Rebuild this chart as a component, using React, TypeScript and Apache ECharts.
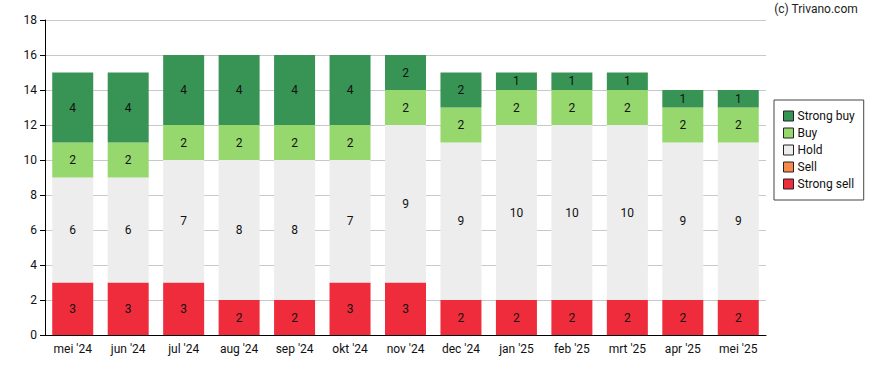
import React, { useEffect, useRef } from "react";
import * as echarts from "echarts";

const categories = ["mei '24", "jun '24", "jul '24", "aug '24", "sep '24", "okt '24", "nov '24", "dec '24", "jan '25", "feb '25", "mrt '25", "apr '25", "mei '25"];
const strongSell = [3, 3, 3, 2, 2, 3, 3, 2, 2, 2, 2, 2, 2];
const sell = [0, 0, 0, 0, 0, 0, 0, 0, 0, 0, 0, 0, 0];
const hold = [6, 6, 7, 8, 8, 7, 9, 9, 10, 10, 10, 9, 9];
const buy = [2, 2, 2, 2, 2, 2, 2, 2, 2, 2, 2, 2, 2];
const strongBuy = [4, 4, 4, 4, 4, 4, 2, 2, 1, 1, 1, 1, 1];
const yTicks = { min: 0, max: 18, interval: 2 };

export default function App() {
  const ref = useRef<HTMLDivElement>(null);
  useEffect(() => {
    if (!ref.current) return;
    const chart = echarts.init(ref.current, undefined, { renderer: "svg" });
    const font = "Roboto, sans-serif";
    const mk = (name: string, data: number[], color: string) => ({
      name,
      type: "bar",
      stack: "total",
      data,
      barWidth: 41,
      itemStyle: { color },
      label: {
        show: true,
        position: "inside",
        color: "#111",
        fontFamily: font,
        fontSize: 12,
        formatter: (p: any) => (p.value ? String(p.value) : ""),
      },
    });
    chart.setOption({
      animation: false,
      textStyle: { fontFamily: font },
      graphic: [
        {
          type: "text",
          right: 30,
          top: 3,
          style: { text: "(c) Trivano.com", fontFamily: font, fontSize: 12, fill: "#222" },
        },
      ],
      grid: { left: 45, right: 122, top: 20, bottom: 35, containLabel: false },
      legend: {
        orient: "vertical",
        left: 774,
        top: 100,
        padding: [10, 9, 10, 9],
        itemGap: 5,
        itemWidth: 10,
        itemHeight: 10,
        borderColor: "#444",
        borderWidth: 1,
        borderRadius: 0,
        icon: "rect",
        textStyle: { fontFamily: font, fontSize: 12, color: "#111", padding: [0, 0, 0, -1] },
        itemStyle: { borderColor: "#222", borderWidth: 1 },
        data: ["Strong buy", "Buy", "Hold", "Sell", "Strong sell"],
      },
      xAxis: {
        type: "category",
        data: categories,
        axisLine: { lineStyle: { color: "#000", width: 1 } },
        axisTick: { alignWithLabel: true, lineStyle: { color: "#000" }, length: 5 },
        axisLabel: { color: "#111", fontFamily: font, fontSize: 12, margin: 8 },
      },
      yAxis: {
        type: "value",
        min: yTicks.min,
        max: yTicks.max,
        interval: yTicks.interval,
        axisLine: { show: true, lineStyle: { color: "#000", width: 1 } },
        axisTick: { show: true, lineStyle: { color: "#000" }, length: 5 },
        axisLabel: { color: "#111", fontFamily: font, fontSize: 12, margin: 8 },
        splitLine: { lineStyle: { color: "#c8c8c8" } },
      },
      series: [
        mk("Strong sell", strongSell, "#ee2c3c"),
        mk("Sell", sell, "#f78a4b"),
        mk("Hold", hold, "#ededed"),
        mk("Buy", buy, "#97d86e"),
        mk("Strong buy", strongBuy, "#389455"),
      ],
    });
    return () => chart.dispose();
  }, []);
  return <div ref={ref} style={{ width: 888, height: 370, position: "absolute", left: 0, top: 0 }} />;
}
